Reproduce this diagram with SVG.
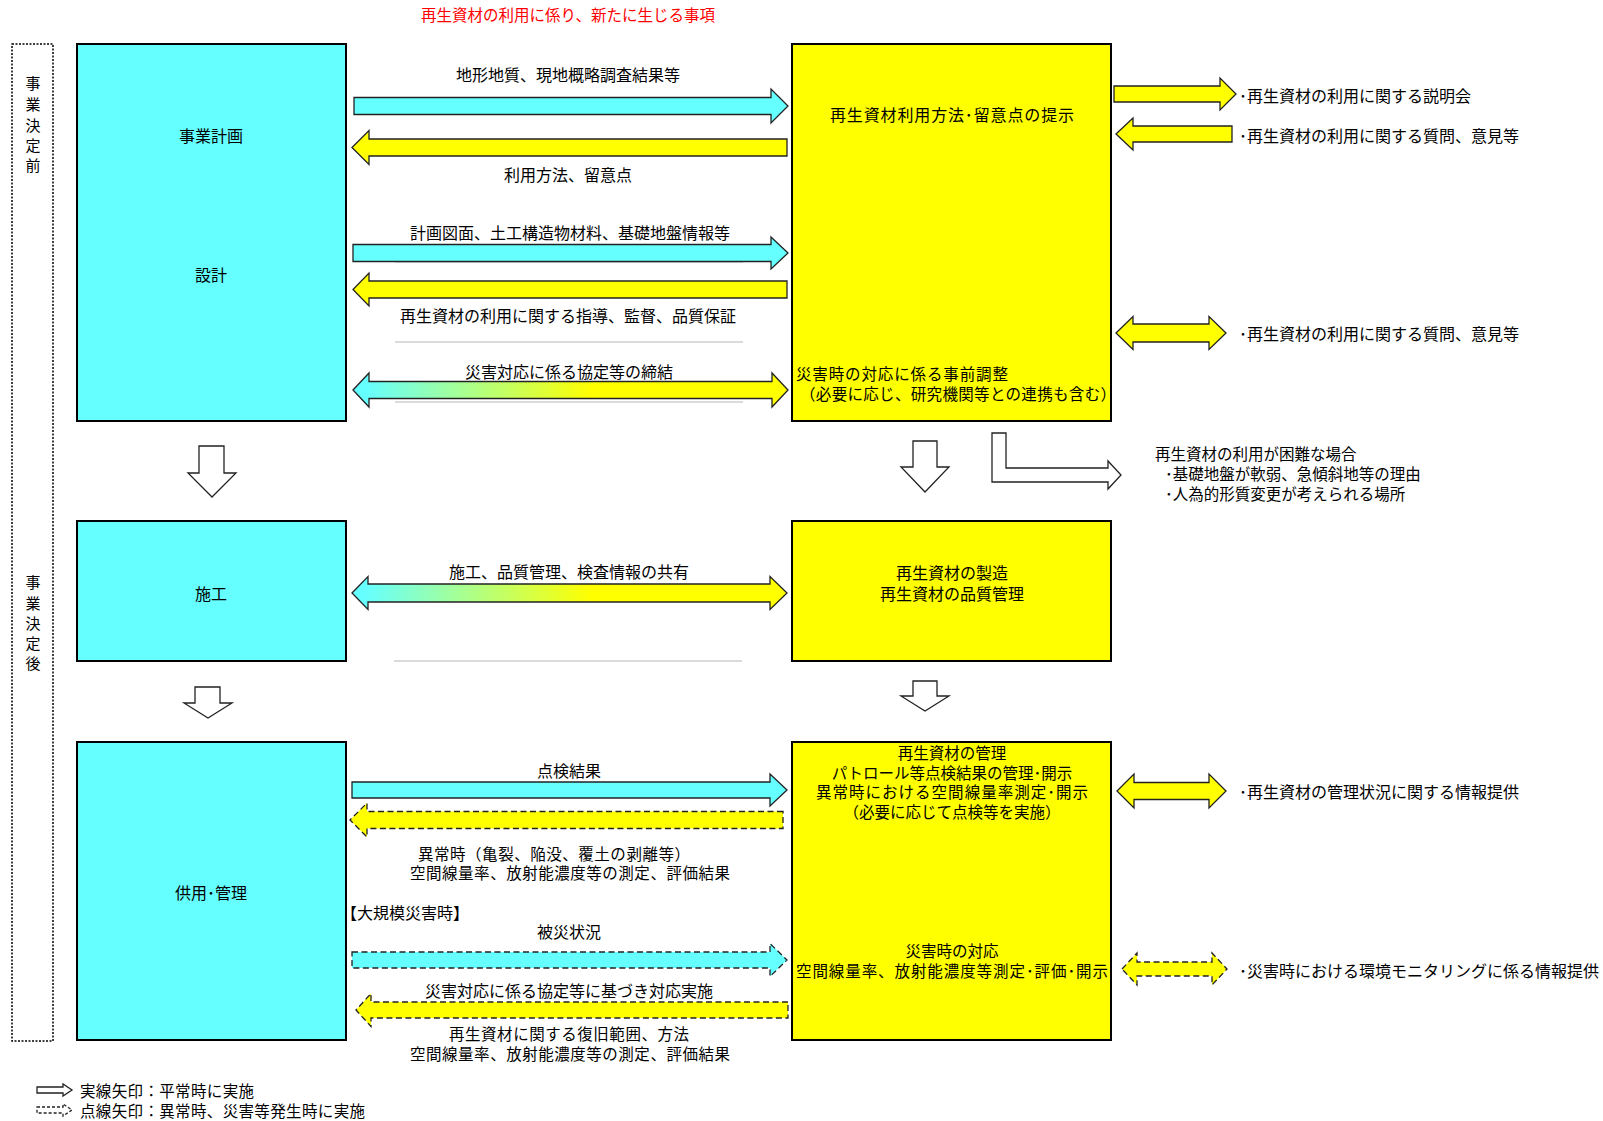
<svg xmlns="http://www.w3.org/2000/svg" width="1603" height="1121" viewBox="0 0 1603 1121">
<style>
text{font-family:"Noto Sans CJK JP","Noto Sans CJK SC",sans-serif;font-size:16px;fill:#000;dominant-baseline:central}
.c{text-anchor:middle}
.s{font-size:15.5px}
.red{fill:#ff0000;font-size:15.5px}
.box{stroke:#000;stroke-width:2}
.cy{fill:#66ffff}
.ye{fill:#ffff00}
.ar{stroke:#222;stroke-width:1.3;stroke-linejoin:miter}
.ds{stroke-dasharray:6 3.5}
.wh{fill:#fff}
.gl{stroke:#cfcfcf;stroke-width:1.5}
.vt{font-size:15px;text-anchor:middle}
</style>
<defs>
<linearGradient id="grad" x1="0" y1="0" x2="1" y2="0">
<stop offset="0.03" stop-color="#66ffff"/>
<stop offset="0.55" stop-color="#ffff00"/>
<stop offset="1" stop-color="#ffff00"/>
</linearGradient>
</defs>
<rect width="1603" height="1121" fill="#fff"/>

<text class="c red" x="568" y="14">再生資材の利用に係り、新たに生じる事項</text>

<g id="phase-labels">
<rect x="12" y="44" width="41" height="997" fill="none" stroke="#000" stroke-width="1.5" stroke-dasharray="2 1.5"/>
<text class="vt"><tspan x="33" y="82">事</tspan><tspan x="33" y="103">業</tspan><tspan x="33" y="124">決</tspan><tspan x="33" y="144">定</tspan><tspan x="33" y="164">前</tspan></text>
<text class="vt"><tspan x="33" y="581">事</tspan><tspan x="33" y="602">業</tspan><tspan x="33" y="622">決</tspan><tspan x="33" y="642">定</tspan><tspan x="33" y="662">後</tspan></text>
</g>

<g id="node-plan">
<rect class="box cy" x="77" y="44" width="269" height="377"/>
<text class="c" x="211" y="135">事業計画</text>
<text class="c" x="211" y="274">設計</text>
</g>
<g id="node-construct">
<rect class="box cy" x="77" y="521" width="269" height="140"/>
<text class="c" x="211" y="593">施工</text>
</g>
<g id="node-operate">
<rect class="box cy" x="77" y="742" width="269" height="298"/>
<text class="c" x="211" y="892">供用･管理</text>
</g>

<g id="node-method">
<rect class="box ye" x="792" y="44" width="319" height="377"/>
<text class="c" x="952" y="114" textLength="244" lengthAdjust="spacing">再生資材利用方法･留意点の提示</text>
<text class="s" x="796" y="373" textLength="212" lengthAdjust="spacing">災害時の対応に係る事前調整</text>
<text class="c s" x="958" y="393" textLength="316" lengthAdjust="spacing">（必要に応じ、研究機関等との連携も含む）</text>
</g>
<g id="node-manufacture">
<rect class="box ye" x="792" y="521" width="319" height="140"/>
<text class="c" x="952" y="572">再生資材の製造</text>
<text class="c" x="952" y="593">再生資材の品質管理</text>
</g>
<g id="node-manage">
<rect class="box ye" x="792" y="742" width="319" height="298"/>
<text class="c s" x="952" y="752">再生資材の管理</text>
<text class="c s" x="952" y="772">パトロール等点検結果の管理･開示</text>
<text class="c s" x="952" y="791" textLength="272" lengthAdjust="spacing">異常時における空間線量率測定･開示</text>
<text class="c s" x="952" y="811">（必要に応じて点検等を実施）</text>
<text class="c s" x="952" y="950">災害時の対応</text>
<text class="c s" x="952" y="970" textLength="312" lengthAdjust="spacing">空間線量率、放射能濃度等測定･評価･開示</text>
</g>

<g id="notes">
<text x="1239" y="95">･再生資材の利用に関する説明会</text>
<text x="1239" y="135">･再生資材の利用に関する質問、意見等</text>
<text x="1239" y="333">･再生資材の利用に関する質問、意見等</text>
<text class="s" x="1155" y="453">再生資材の利用が困難な場合</text>
<text class="s" x="1165" y="473">･基礎地盤が軟弱、急傾斜地等の理由</text>
<text class="s" x="1165" y="493">･人為的形質変更が考えられる場所</text>
<text x="1239" y="791">･再生資材の管理状況に関する情報提供</text>
<text x="1239" y="970">･災害時における環境モニタリングに係る情報提供</text>
</g>

<g id="connectors">
<line class="gl" x1="395" y1="262" x2="743" y2="262"/>
<line class="gl" x1="395" y1="342" x2="743" y2="342"/>
<line class="gl" x1="395" y1="402" x2="743" y2="402"/>
<line class="gl" x1="394" y1="661" x2="742" y2="661"/>

<polygon class="ar cy" points="354,97.5 771,97.5 771,89 788,106 771,123 771,114.5 354,114.5"/>
<text class="c" x="568" y="74">地形地質、現地概略調査結果等</text>
<polygon class="ar ye" points="787,139 369,139 369,130.5 352,147.5 369,164.5 369,156 787,156"/>
<text class="c" x="568" y="174">利用方法、留意点</text>

<polygon class="ar cy" points="353,244.5 771,244.5 771,237 788,253 771,269 771,261.5 353,261.5"/>
<text class="c" x="570" y="232">計画図面、土工構造物材料、基礎地盤情報等</text>
<polygon class="ar ye" points="787,281 369,281 369,273 353,289.5 369,306 369,298 787,298"/>
<text class="c" x="568" y="315">再生資材の利用に関する指導、監督、品質保証</text>

<polygon class="ar" fill="url(#grad)" points="353,390 369,373 369,381.5 772,381.5 772,373 788,390 772,407 772,398.5 369,398.5 369,407"/>
<text class="c" x="569" y="371">災害対応に係る協定等の締結</text>

<polygon class="ar" fill="url(#grad)" points="352,593 368,576.5 368,584 770,584 770,576.5 787,593 770,609.5 770,602 368,602 368,609.5"/>
<text class="c" x="569" y="571">施工、品質管理、検査情報の共有</text>

<polygon class="ar cy" points="352,782 770,782 770,774 787,790 770,806 770,798 352,798"/>
<text class="c" x="569" y="770">点検結果</text>
<polygon class="ar ye ds" points="783,811.5 367,811.5 367,803 350,820 367,837 367,828.5 783,828.5"/>
<text class="s" x="418" y="853" textLength="272" lengthAdjust="spacing">異常時（亀裂、陥没、覆土の剥離等）</text>
<text class="c s" x="570" y="872" textLength="320" lengthAdjust="spacing">空間線量率、放射能濃度等の測定、評価結果</text>

<text x="341" y="912">【大規模災害時】</text>
<text class="c" x="569" y="931">被災状況</text>
<polygon class="ar cy ds" points="352,952 770,952 770,943.5 787,960 770,976.5 770,968 352,968"/>
<text class="c" x="569" y="990">災害対応に係る協定等に基づき対応実施</text>
<polygon class="ar ye ds" points="788,1002 371,1002 371,993.5 356,1010 371,1026.5 371,1018 788,1018"/>
<text class="c s" x="569" y="1033" textLength="240" lengthAdjust="spacing">再生資材に関する復旧範囲、方法</text>
<text class="c s" x="570" y="1053" textLength="320" lengthAdjust="spacing">空間線量率、放射能濃度等の測定、評価結果</text>

<polygon class="ar ye" points="1114,86 1220,86 1220,78 1236,94 1220,110 1220,102 1114,102"/>
<polygon class="ar ye" points="1232,126 1133,126 1133,118 1116,134 1133,150 1133,142 1232,142"/>
<polygon class="ar ye" points="1116,333 1133,316.5 1133,324 1209,324 1209,316.5 1226,333 1209,349.5 1209,342 1133,342 1133,349.5"/>
<polygon class="ar ye" points="1117,791 1134,774 1134,782.5 1209,782.5 1209,774 1226,791 1209,808 1209,799.5 1134,799.5 1134,808"/>
<polygon class="ar ye ds" points="1122,969 1137,953 1137,962 1212,962 1212,953 1227,969 1212,985 1212,976 1137,976 1137,985"/>

<polygon class="ar wh" points="199,446 224,446 224,473 236,473 212,497 188,473 199,473"/>
<polygon class="ar wh" points="195,687 220,687 220,703 232,703 208,718 184,703 195,703"/>
<polygon class="ar wh" points="913,441 937,441 937,467 949,467 925,492 901,467 913,467"/>
<polygon class="ar wh" points="913,681 937,681 937,696 949,696 925,711 901,696 913,696"/>
<polygon class="ar wh" points="992,433 1006,433 1006,468 1108,468 1108,461 1121,475 1108,489 1108,482 992,482"/>
</g>

<g id="legend">
<polygon class="ar wh" points="37,1087 63,1087 63,1084 72,1090 63,1096 63,1093 37,1093"/>
<text class="s" x="80" y="1090" textLength="174" lengthAdjust="spacing">実線矢印：平常時に実施</text>
<polygon class="ar wh" stroke-dasharray="3 2" points="37,1107 63,1107 63,1104 72,1110 63,1116 63,1113 37,1113"/>
<text class="s" x="80" y="1110" textLength="285" lengthAdjust="spacing">点線矢印：異常時、災害等発生時に実施</text>
</g>
</svg>
